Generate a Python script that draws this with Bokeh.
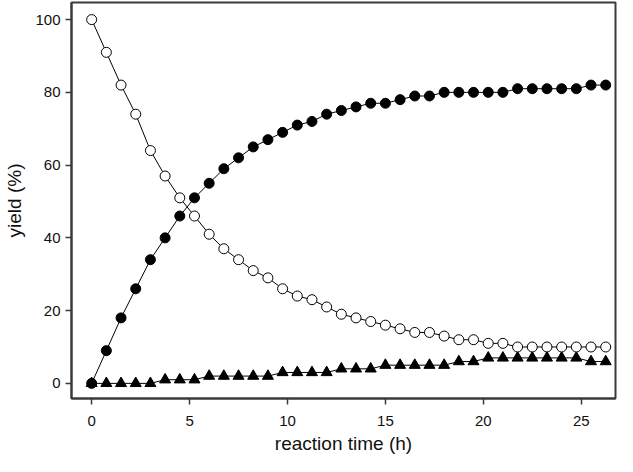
from bokeh.plotting import figure
from bokeh.models import Range1d, FixedTicker
from bokeh.embed import file_html
from bokeh.resources import INLINE

# reaction time (h)
time_h = [0, 0.75, 1.5, 2.25, 3, 3.75, 4.5, 5.25, 6, 6.75, 7.5, 8.25, 9, 9.75,
          10.5, 11.25, 12, 12.75, 13.5, 14.25, 15, 15.75, 16.5, 17.25, 18, 18.75,
          19.5, 20.25, 21, 21.75, 22.5, 23.25, 24, 24.75, 25.5, 26.25]

# open circles (starting material)
open_circle = [100, 91, 82, 74, 64, 57, 51, 46, 41, 37, 34, 31, 29, 26, 24, 23,
               21, 19, 18, 17, 16, 15, 14, 14, 13, 12, 12, 11, 11, 10, 10, 10,
               10, 10, 10, 10]

# filled circles (product)
filled_circle = [0, 9, 18, 26, 34, 40, 46, 51, 55, 59, 62, 65, 67, 69, 71, 72,
                 74, 75, 76, 77, 77, 78, 79, 79, 80, 80, 80, 80, 80, 81, 81, 81,
                 81, 81, 82, 82]

# filled triangles (by-product)
triangle = [0, 0, 0, 0, 0, 1, 1, 1, 2, 2, 2, 2, 2, 3, 3, 3, 3, 4, 4, 4, 5, 5,
            5, 5, 5, 6, 6, 7, 7, 7, 7, 7, 7, 7, 6, 6]

x_ticks = [0, 5, 10, 15, 20, 25]
y_ticks = [0, 20, 40, 60, 80, 100]

FONT = "Liberation Sans"
FRAME = "#3a3a3a"

p = figure(width=617, height=456, output_backend="svg", toolbar_location=None,
           x_range=Range1d(-1.03, 26.75), y_range=Range1d(-4.16, 104.7),
           min_border_left=71, min_border_right=2, min_border_top=2,
           min_border_bottom=54)

p.background_fill_color = "white"
p.border_fill_color = "white"
p.outline_line_color = FRAME
p.outline_line_width = 2
p.xgrid.visible = False
p.ygrid.visible = False

p.xaxis.ticker = FixedTicker(ticks=x_ticks)
p.yaxis.ticker = FixedTicker(ticks=y_ticks)
p.xaxis.axis_label = "reaction time (h)"
p.yaxis.axis_label = "yield (%)"

for ax in (p.xaxis, p.yaxis):
    ax.axis_line_color = FRAME
    ax.axis_line_width = 2
    ax.major_tick_line_color = FRAME
    ax.major_tick_line_width = 1.5
    ax.major_tick_out = 6
    ax.major_tick_in = 0
    ax.minor_tick_line_color = None
    ax.major_label_text_font = FONT
    ax.major_label_text_font_size = "15px"
    ax.major_label_text_color = "#111111"
    ax.axis_label_text_font = FONT
    ax.axis_label_text_font_size = "19px"
    ax.axis_label_text_font_style = "normal"
    ax.axis_label_text_color = "#111111"

p.xaxis.major_label_standoff = 11
p.xaxis.axis_label_standoff = 4
p.yaxis.major_label_standoff = 5
p.yaxis.axis_label_standoff = 7

# connecting lines
p.line(time_h, triangle, line_color="black", line_width=1)
p.line(time_h, filled_circle, line_color="black", line_width=1)
p.line(time_h, open_circle, line_color="black", line_width=1)

# markers
p.scatter(time_h, triangle, marker="triangle", size=11, fill_color="black",
          line_color="black", line_width=1)
p.scatter(time_h, filled_circle, marker="circle", size=10, fill_color="black",
          line_color="black", line_width=1)
p.scatter(time_h, open_circle, marker="circle", size=10, fill_color="white",
          line_color="black", line_width=1)

open("out.html", "w").write(file_html(p, INLINE))
